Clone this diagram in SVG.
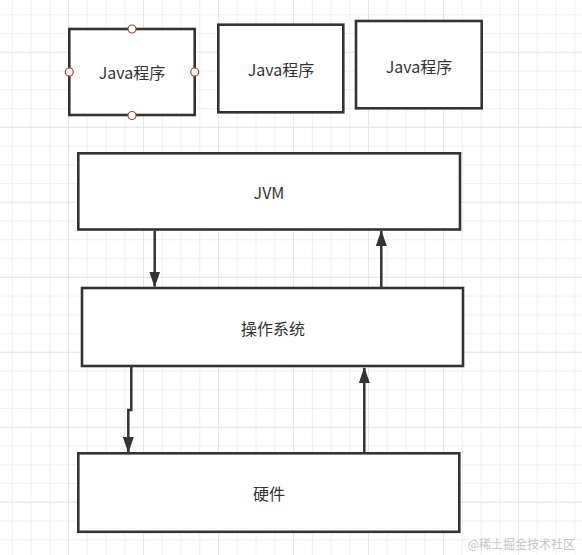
<svg xmlns="http://www.w3.org/2000/svg" width="582" height="555" viewBox="0 0 582 555">
<style>
.box{fill:#ffffff;stroke:#333333;stroke-width:2.6}
.lbl{font-family:"Noto Sans CJK SC","Noto Sans",sans-serif;font-size:16px;fill:#333333;text-anchor:middle;dominant-baseline:central}
.edge{fill:none;stroke:#333333;stroke-width:2.5}
.handle{fill:#ffffff;stroke:#a8403c;stroke-width:1.2}
.wm{font-family:"Noto Sans CJK SC","Noto Sans",sans-serif;font-size:12px;fill:#c4c4c4;text-anchor:end}
</style>
<defs>
<pattern id="minor" patternUnits="userSpaceOnUse" x="11.8" y="14.3" width="18.75" height="18.75">
<path d="M0.5 0V18.75M0 0.5H18.75" stroke="#f0f0f0" stroke-width="1" fill="none"/>
</pattern>
<pattern id="major" patternUnits="userSpaceOnUse" x="68.05" y="51.8" width="75" height="75">
<path d="M0.5 0V75M0 0.5H75" stroke="#e5e5e5" stroke-width="1" fill="none"/>
</pattern>
<marker id="arr" viewBox="0 0 16 11" refX="15" refY="5.5" markerUnits="userSpaceOnUse" markerWidth="16" markerHeight="11" orient="auto">
<path d="M0 0L16 5.5L0 11Z" fill="#333333"/>
</marker>
</defs>
<rect width="582" height="555" fill="#ffffff"/>
<rect width="582" height="555" fill="url(#minor)"/>
<rect width="582" height="555" fill="url(#major)"/>

<g id="connectors">
<path class="edge" d="M154.7 230.5V286.5" marker-end="url(#arr)"/>
<path class="edge" d="M381.3 288V231" marker-end="url(#arr)"/>
<path class="edge" d="M131.3 366.5V410H128.3V452" marker-end="url(#arr)"/>
<path class="edge" d="M364.3 453V368" marker-end="url(#arr)"/>
</g>

<g id="java1">
<rect class="box" x="69.3" y="29" width="125.4" height="86"/>
<text class="lbl" x="132" y="72">Java程序</text>
<circle class="handle" cx="132" cy="29" r="4"/>
<circle class="handle" cx="69.3" cy="72" r="4"/>
<circle class="handle" cx="194.7" cy="72" r="4"/>
<circle class="handle" cx="132" cy="115.5" r="4"/>
</g>
<g id="java2">
<rect class="box" x="218.3" y="24.7" width="125" height="87.6"/>
<text class="lbl" x="281" y="69">Java程序</text>
</g>
<g id="java3">
<rect class="box" x="356" y="21" width="125.7" height="87.3"/>
<text class="lbl" x="419" y="65.5">Java程序</text>
</g>
<g id="jvm">
<rect class="box" x="78.3" y="153.3" width="381.7" height="76.2"/>
<text class="lbl" x="269" y="192">JVM</text>
</g>
<g id="os">
<rect class="box" x="82" y="288" width="381" height="78"/>
<text class="lbl" x="273" y="327.5">操作系统</text>
</g>
<g id="hw">
<rect class="box" x="78.3" y="453.3" width="381" height="78.5"/>
<text class="lbl" x="269" y="493">硬件</text>
</g>
<text class="wm" x="575" y="549">@稀土掘金技术社区</text>
</svg>
